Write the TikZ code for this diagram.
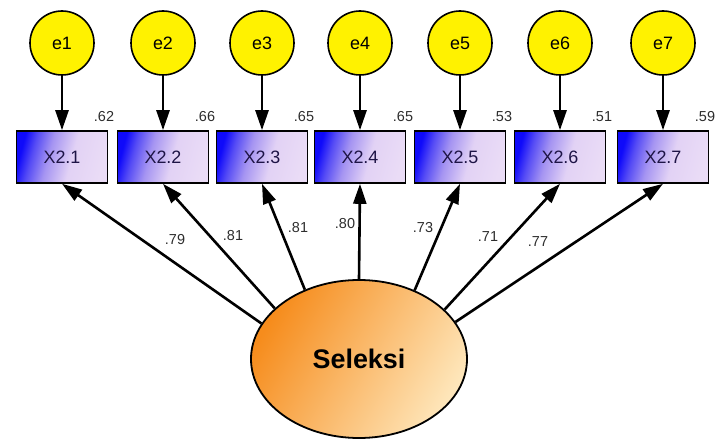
\documentclass[tikz,border=0pt]{standalone}
\usepackage{fontspec}
\setmainfont{Liberation Sans}
\usetikzlibrary{shapes.geometric,arrows.meta}
\definecolor{boxblue}{RGB}{15,10,250}
\definecolor{boxb2}{RGB}{85,75,245}
\definecolor{boxmid}{RGB}{165,148,242}
\definecolor{boxlav}{RGB}{226,210,245}
\definecolor{boxlav2}{RGB}{234,220,246}
\definecolor{orng}{RGB}{246,140,28}
\definecolor{peach}{RGB}{254,230,186}
\definecolor{navytext}{RGB}{30,20,70}
\definecolor{lbl}{RGB}{45,45,45}
\pgfdeclarehorizontalshading{boxsh}{100bp}{color(0bp)=(boxblue); color(25bp)=(boxblue); color(32bp)=(boxb2); color(42bp)=(boxmid); color(56bp)=(boxlav); color(75bp)=(boxlav2); color(100bp)=(boxlav2)}
\tikzset{
  errc/.style={circle, draw=black, line width=1.6bp, fill=yellow, minimum size=64bp, inner sep=0pt, font=\fontsize{18}{20}\selectfont},
  obsbox/.style={rectangle, draw=black, line width=1.6bp, minimum width=91bp, minimum height=52bp, inner sep=0pt,
    shade, shading=boxsh, shading angle=-15,
    text=navytext, font=\fontsize{18}{20}\selectfont},
  latent/.style={ellipse, draw=black, line width=1.8bp, minimum width=216bp, minimum height=158bp, inner sep=0pt,
    left color=orng, right color=peach, shading angle=60, font=\fontsize{27}{30}\selectfont\bfseries},
  arr/.style={line width=2.6bp, -{Triangle[length=20bp,width=13bp]}},
  num/.style={text=lbl, font=\fontsize{14.5}{16}\selectfont, inner sep=0pt}
}
\begin{document}
\begin{tikzpicture}[x=1bp,y=-1bp]
\useasboundingbox (0,0) rectangle (728,445);
\foreach \i/\x in {1/62,2/163,3/262,4/360,5/460,6/560,7/663}{
  \node[errc] (e\i) at (\x,43) {e\i};
  \node[obsbox] (x\i) at (\x,157) {X2.\i};
  \draw[arr] (e\i.south) -- (x\i.north);
}
\node[num] (r1) at (104,117) {.62};
\node[num] (r2) at (205,117) {.66};
\node[num] (r3) at (304,117) {.65};
\node[num] (r4) at (403,117) {.65};
\node[num] (r5) at (502,117) {.53};
\node[num] (r6) at (602,117) {.51};
\node[num] (r7) at (705,117) {.59};
\node[latent] (S) at (359,359) {Seleksi};
\draw[arr] (S.160) -- (x1.south);
\draw[arr] (S.149) -- (x2.south);
\draw[arr] (S.128) -- (x3.south);
\draw[arr] (S.90) -- (x4.south);
\draw[arr] (S.51) -- (x5.south);
\draw[arr] (S.30.5) -- (x6.south);
\draw[arr] (S.21) -- (x7.south);
\node[num] (l1) at (175,240) {.79};
\node[num] (l2) at (233,236) {.81};
\node[num] (l3) at (298,228) {.81};
\node[num] (l4) at (345,224) {.80};
\node[num] (l5) at (423,228) {.73};
\node[num] (l6) at (488,237) {.71};
\node[num] (l7) at (538,242) {.77};
\end{tikzpicture}
\end{document}
